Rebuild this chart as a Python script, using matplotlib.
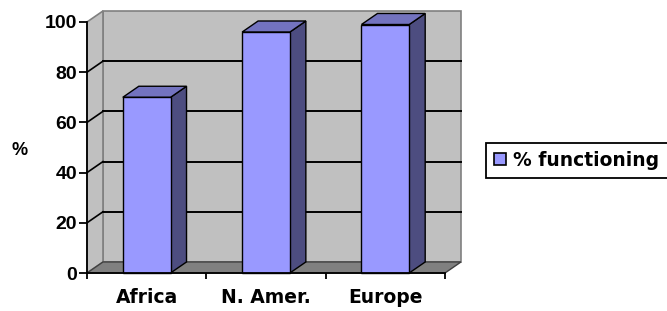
import matplotlib.pyplot as plt
from matplotlib.patches import Polygon, Rectangle

# data
regions = ['Africa', 'N. Amer.', 'Europe']
functioning = [70, 96, 99]
yticks = [0, 20, 40, 60, 80, 100]

# look
front_col = '#9999ff'
top_col = '#7373bf'
side_col = '#4d4d80'
wall_col = '#c0c0c0'
floor_col = '#808080'
dx, dy = 0.134, 4.4   # depth offset in data units
bar_w = 0.40

fig = plt.figure(figsize=(6.67, 3.11), dpi=100)
ax = fig.add_axes([87 / 667, 1 - 273 / 311, 358 / 667, 251 / 311])
ax.set_xlim(-0.5, len(regions) - 0.5)
ax.set_ylim(0, 100)
ax.patch.set_visible(False)

x0, x1 = -0.5, len(regions) - 0.5

# walls and floor
back = Polygon([(x0 + dx, dy), (x1 + dx, dy), (x1 + dx, 100 + dy), (x0 + dx, 100 + dy)],
               closed=True, fc=wall_col, ec='#808080', lw=1.2, clip_on=False, zorder=0)
side = Polygon([(x0, 0), (x0 + dx, dy), (x0 + dx, 100 + dy), (x0, 100)],
               closed=True, fc=wall_col, ec='#808080', lw=1.2, clip_on=False, zorder=0)
floor = Polygon([(x0, 0), (x1, 0), (x1 + dx, dy), (x0 + dx, dy)],
                closed=True, fc=floor_col, ec='#404040', lw=1.0, clip_on=False, zorder=0.5)
for p in (back, side, floor):
    ax.add_patch(p)

# gridlines on the walls
for v in yticks[1:-1]:
    ax.plot([x0 + dx, x1 + dx], [v + dy, v + dy], color='black', lw=1.4, clip_on=False, zorder=1)
    ax.plot([x0, x0 + dx], [v, v + dy], color='black', lw=1.2, clip_on=False, zorder=1)

# 3d bars
for i, v in enumerate(functioning):
    l, r = i - bar_w / 2, i + bar_w / 2
    ax.add_patch(Polygon([(r, 0), (r + dx, dy), (r + dx, v + dy), (r, v)], closed=True,
                         fc=side_col, ec='black', lw=1.0, clip_on=False, zorder=3))
    ax.add_patch(Polygon([(l, v), (r, v), (r + dx, v + dy), (l + dx, v + dy)], closed=True,
                         fc=top_col, ec='black', lw=1.0, clip_on=False, zorder=3))
    ax.add_patch(Rectangle((l, 0), bar_w, v, fc=front_col, ec='black', lw=1.0,
                           clip_on=False, zorder=4))

# axes
for s in ('top', 'right'):
    ax.spines[s].set_visible(False)
for s in ('left', 'bottom'):
    ax.spines[s].set_color('black')
    ax.spines[s].set_linewidth(1.3)
    ax.spines[s].set_zorder(5)

ax.set_yticks(yticks)
ax.set_yticklabels([str(t) for t in yticks], fontfamily='Liberation Sans',
                   fontweight='bold', fontsize=14)
ax.tick_params(axis='y', direction='out', length=5.5, width=1.3, pad=1.5)

ax.set_xticks([x0 + k for k in range(len(regions) + 1)])
ax.set_xticklabels([])
ax.tick_params(axis='x', which='major', direction='out', length=4.5, width=1.3)
ax.set_xticks(range(len(regions)), minor=True)
ax.set_xticklabels(regions, minor=True, fontfamily='DejaVu Sans',
                   fontweight='bold', fontsize=13.5)
ax.tick_params(axis='x', which='minor', length=0, pad=11)

fig.text(20 / 667, 1 - 150 / 311, '%', fontfamily='Liberation Sans', fontweight='bold',
         fontsize=13, ha='center', va='center')

# legend
handle = Rectangle((0, 0), 1, 1, fc=front_col, ec='black', lw=1.2)
leg = fig.legend([handle], ['% functioning'], loc='center left',
                 bbox_to_anchor=(486 / 667, 1 - 160.5 / 311),
                 prop={'family': 'DejaVu Sans', 'weight': 'bold', 'size': 13.5},
                 frameon=True, fancybox=False, edgecolor='black', framealpha=1,
                 handlelength=0.6, handleheight=0.6, handletextpad=0.4,
                 borderpad=0.45, borderaxespad=0)
leg.get_frame().set_linewidth(1.3)

fig.savefig('out.png', dpi=100)
